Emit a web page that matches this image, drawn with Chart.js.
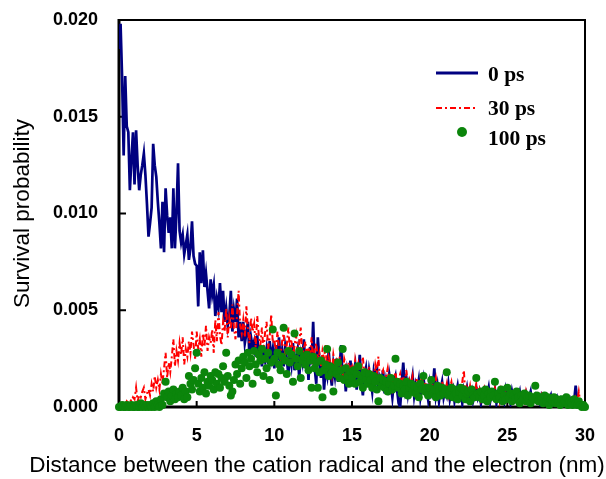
<!DOCTYPE html>
<html>
<head>
<meta charset="utf-8">
<script src="https://cdn.jsdelivr.net/npm/chart.js@4/dist/chart.umd.min.js"></script>
<style>
  html, body { margin: 0; padding: 0; background: #ffffff; }
</style>
</head>
<body>
<canvas id="survivalChart" width="606" height="479"></canvas>
<script>
// distance between cation radical and electron (nm), 0.1 nm bins
const distanceNm = [
  0, 0.1, 0.2, 0.3, 0.4, 0.5, 0.6, 0.7, 0.8, 0.9,
  1, 1.1, 1.2, 1.3, 1.4, 1.5, 1.6, 1.7, 1.8, 1.9,
  2, 2.1, 2.2, 2.3, 2.4, 2.5, 2.6, 2.7, 2.8, 2.9,
  3, 3.1, 3.2, 3.3, 3.4, 3.5, 3.6, 3.7, 3.8, 3.9,
  4, 4.1, 4.2, 4.3, 4.4, 4.5, 4.6, 4.7, 4.8, 4.9,
  5, 5.1, 5.2, 5.3, 5.4, 5.5, 5.6, 5.7, 5.8, 5.9,
  6, 6.1, 6.2, 6.3, 6.4, 6.5, 6.6, 6.7, 6.8, 6.9,
  7, 7.1, 7.2, 7.3, 7.4, 7.5, 7.6, 7.7, 7.8, 7.9,
  8, 8.1, 8.2, 8.3, 8.4, 8.5, 8.6, 8.7, 8.8, 8.9,
  9, 9.1, 9.2, 9.3, 9.4, 9.5, 9.6, 9.7, 9.8, 9.9,
  10, 10.1, 10.2, 10.3, 10.4, 10.5, 10.6, 10.7, 10.8, 10.9,
  11, 11.1, 11.2, 11.3, 11.4, 11.5, 11.6, 11.7, 11.8, 11.9,
  12, 12.1, 12.2, 12.3, 12.4, 12.5, 12.6, 12.7, 12.8, 12.9,
  13, 13.1, 13.2, 13.3, 13.4, 13.5, 13.6, 13.7, 13.8, 13.9,
  14, 14.1, 14.2, 14.3, 14.4, 14.5, 14.6, 14.7, 14.8, 14.9,
  15, 15.1, 15.2, 15.3, 15.4, 15.5, 15.6, 15.7, 15.8, 15.9,
  16, 16.1, 16.2, 16.3, 16.4, 16.5, 16.6, 16.7, 16.8, 16.9,
  17, 17.1, 17.2, 17.3, 17.4, 17.5, 17.6, 17.7, 17.8, 17.9,
  18, 18.1, 18.2, 18.3, 18.4, 18.5, 18.6, 18.7, 18.8, 18.9,
  19, 19.1, 19.2, 19.3, 19.4, 19.5, 19.6, 19.7, 19.8, 19.9,
  20, 20.1, 20.2, 20.3, 20.4, 20.5, 20.6, 20.7, 20.8, 20.9,
  21, 21.1, 21.2, 21.3, 21.4, 21.5, 21.6, 21.7, 21.8, 21.9,
  22, 22.1, 22.2, 22.3, 22.4, 22.5, 22.6, 22.7, 22.8, 22.9,
  23, 23.1, 23.2, 23.3, 23.4, 23.5, 23.6, 23.7, 23.8, 23.9,
  24, 24.1, 24.2, 24.3, 24.4, 24.5, 24.6, 24.7, 24.8, 24.9,
  25, 25.1, 25.2, 25.3, 25.4, 25.5, 25.6, 25.7, 25.8, 25.9,
  26, 26.1, 26.2, 26.3, 26.4, 26.5, 26.6, 26.7, 26.8, 26.9,
  27, 27.1, 27.2, 27.3, 27.4, 27.5, 27.6, 27.7, 27.8, 27.9,
  28, 28.1, 28.2, 28.3, 28.4, 28.5, 28.6, 28.7, 28.8, 28.9,
  29, 29.1, 29.2, 29.3, 29.4, 29.5, 29.6, 29.7, 29.8, 29.9,
  30
];

// survival probability, 0 ps
const survival0ps = [
  0.0185, 0.0198, 0.0170, 0.0130, 0.0171, 0.0145, 0.0142, 0.0112, 0.0128, 0.0142,
  0.0115, 0.0143, 0.0125, 0.0112, 0.0120, 0.0125, 0.0131, 0.0120, 0.0105, 0.0088,
  0.0095, 0.0103, 0.0136, 0.0125, 0.0119, 0.0106, 0.0095, 0.0082, 0.0106, 0.0080,
  0.0113, 0.0099, 0.0090, 0.0098, 0.0082, 0.0113, 0.0082, 0.0100, 0.0126, 0.0091,
  0.0085, 0.0089, 0.0079, 0.0084, 0.0089, 0.0076, 0.0082, 0.0096, 0.0078, 0.0074,
  0.0073, 0.0052, 0.0080, 0.0064, 0.0081, 0.0062, 0.0069, 0.0060, 0.0051, 0.0066,
  0.0058, 0.0063, 0.0047, 0.0056, 0.0051, 0.0064, 0.0049, 0.0060, 0.0044, 0.0051,
  0.0042, 0.0047, 0.0060, 0.0039, 0.0050, 0.0044, 0.0056, 0.0036, 0.0044, 0.0034,
  0.0044, 0.0033, 0.0038, 0.0044, 0.0026, 0.0036, 0.0031, 0.0034, 0.0026, 0.0037,
  0.0024, 0.0032, 0.0021, 0.0028, 0.0024, 0.0030, 0.0022, 0.0034, 0.0025, 0.0030,
  0.0020, 0.0032, 0.0024, 0.0036, 0.0022, 0.0029, 0.0021, 0.0031, 0.0025, 0.0017,
  0.0028, 0.0022, 0.0033, 0.0019, 0.0026, 0.0030, 0.0015, 0.0027, 0.0023, 0.0035,
  0.0020, 0.0029, 0.0014, 0.0031, 0.0022, 0.0044, 0.0020, 0.0012, 0.0036, 0.0024,
  0.0015, 0.0026, 0.0009, 0.0020, 0.0016, 0.0029, 0.0018, 0.0011, 0.0022, 0.0016,
  0.0025, 0.0013, 0.0020, 0.0032, 0.0014, 0.0021, 0.0008, 0.0019, 0.0015, 0.0024,
  0.0012, 0.0018, 0.0022, 0.0009, 0.0017, 0.0027, 0.0013, 0.0006, 0.0016, 0.0020,
  0.0011, 0.0019, 0.0014, 0.0008, 0.0018, 0.0013, 0.0021, 0.0009, 0.0015, 0.0012,
  0.0019, 0.0007, 0.0014, 0.0010, 0.0017, 0.0012, 0.0005, 0.0013, 0.0016, 0.0009,
  0.0002, 0, 0.0012, 0.0023, 0.0010, 0.0015, 0.0007, 0.0013, 0.0011, 0.0016,
  0.0006, 0.0012, 0.0009, 0.0014, 0.0005, 0.0011, 0.0015, 0.0008, 0.0010, 0.0004,
  0.0012, 0.0007, 0.0010, 0.0020, 0.0006, 0.0011, 0.0003, 0.0009, 0.0013, 0.0005,
  0.0009, 0.0006, 0.0012, 0.0004, 0.0008, 0.0010, 0.0003, 0.0007, 0.0011, 0.0005,
  0.0008, 0.0002, 0.0009, 0.0006, 0.0010, 0.0004, 0.0007, 0.0009, 0.0003, 0.0006,
  0.0010, 0.0005, 0.0008, 0.0002, 0.0007, 0.0009, 0.0004, 0.0006, 0.0010, 0.0003,
  0.0007, 0.0005, 0.0009, 0.0002, 0.0006, 0.0008, 0.0004, 0.0007, 0.0003, 0.0009,
  0.0005, 0.0006, 0.0002, 0.0008, 0.0004, 0.0007, 0.0003, 0.0005, 0.0008, 0.0002,
  0.0006, 0.0004, 0.0007, 0.0003, 0.0005, 0.0008, 0.0002, 0.0004, 0.0006, 0.0003,
  0.0005, 0.0002, 0.0006, 0.0004, 0.0003, 0.0005, 0.0002, 0.0004, 0.0006, 0.0001,
  0.0004, 0.0003, 0.0005, 0.0002, 0.0004, 0.0001, 0.0003, 0.0005, 0.0002, 0.0003,
  0.0001, 0.0004, 0.0002, 0.0003, 0.0011, 0.0002, 0.0001, 0.0003, 0.0002, 0.0001,
  0
];

// survival probability, 30 ps
const survival30ps = [
  0, 0.0001, 0, 0.0002, 0.0001, 0.0003, 0.0002, 0.0004, 0.0003, 0.0005,
  0.0004, 0.0010, 0.0003, 0.0006, 0.0005, 0.0008, 0.0010, 0.0004, 0.0007, 0.0009,
  0.0006, 0.0012, 0.0008, 0.0016, 0.0010, 0.0014, 0.0009, 0.0017, 0.0012, 0.0020,
  0.0028, 0.0015, 0.0023, 0.0018, 0.0026, 0.0035, 0.0021, 0.0029, 0.0024, 0.0033,
  0.0027, 0.0036, 0.0022, 0.0030, 0.0026, 0.0034, 0.0028, 0.0039, 0.0032, 0.0025,
  0.0039, 0.0030, 0.0035, 0.0026, 0.0038, 0.0031, 0.0042, 0.0029, 0.0036, 0.0033,
  0.0040, 0.0028, 0.0045, 0.0034, 0.0049, 0.0037, 0.0032, 0.0044, 0.0039, 0.0051,
  0.0036, 0.0046, 0.0040, 0.0053, 0.0041, 0.0035, 0.0048, 0.0060, 0.0042, 0.0038,
  0.0045, 0.0036, 0.0052, 0.0040, 0.0033, 0.0046, 0.0039, 0.0043, 0.0031, 0.0047,
  0.0037, 0.0032, 0.0041, 0.0029, 0.0038, 0.0044, 0.0030, 0.0036, 0.0048, 0.0033,
  0.0035, 0.0028, 0.0039, 0.0031, 0.0026, 0.0034, 0.0038, 0.0027, 0.0032, 0.0041,
  0.0029, 0.0035, 0.0024, 0.0032, 0.0037, 0.0028, 0.0033, 0.0041, 0.0026, 0.0030,
  0.0034, 0.0025, 0.0031, 0.0027, 0.0036, 0.0022, 0.0030, 0.0033, 0.0024, 0.0028,
  0.0021, 0.0029, 0.0025, 0.0032, 0.0019, 0.0026, 0.0023, 0.0017, 0.0027, 0.0022,
  0.0024, 0.0018, 0.0026, 0.0020, 0.0016, 0.0025, 0.0022, 0.0015, 0.0023, 0.0019,
  0.0021, 0.0015, 0.0024, 0.0018, 0.0022, 0.0014, 0.0020, 0.0026, 0.0016, 0.0019,
  0.0017, 0.0021, 0.0013, 0.0019, 0.0015, 0.0022, 0.0018, 0.0026, 0.0014, 0.0017,
  0.0019, 0.0012, 0.0016, 0.0020, 0.0013, 0.0017, 0.0010, 0.0015, 0.0018, 0.0011,
  0.0014, 0.0017, 0.0010, 0.0016, 0.0012, 0.0019, 0.0009, 0.0014, 0.0011, 0.0016,
  0.0010, 0.0013, 0.0015, 0.0008, 0.0012, 0.0016, 0.0009, 0.0013, 0.0011, 0.0007,
  0.0012, 0.0014, 0.0008, 0.0011, 0.0015, 0.0009, 0.0012, 0.0007, 0.0013, 0.0010,
  0.0008, 0.0012, 0.0006, 0.0010, 0.0013, 0.0007, 0.0011, 0.0009, 0.0005, 0.0010,
  0.0008, 0.0013, 0.0019, 0.0006, 0.0010, 0.0007, 0.0011, 0.0005, 0.0009, 0.0008,
  0.0012, 0.0006, 0.0009, 0.0004, 0.0008, 0.0010, 0.0005, 0.0009, 0.0007, 0.0004,
  0.0008, 0.0006, 0.0010, 0.0005, 0.0007, 0.0003, 0.0009, 0.0006, 0.0004, 0.0007,
  0.0005, 0.0008, 0.0003, 0.0006, 0.0009, 0.0004, 0.0006, 0.0003, 0.0007, 0.0005,
  0.0006, 0.0003, 0.0008, 0.0004, 0.0005, 0.0002, 0.0006, 0.0004, 0.0007, 0.0003,
  0.0005, 0.0003, 0.0006, 0.0002, 0.0004, 0.0005, 0.0003, 0.0006, 0.0002, 0.0004,
  0.0003, 0.0005, 0.0002, 0.0004, 0.0003, 0.0006, 0.0002, 0.0004, 0.0003, 0.0005,
  0.0002, 0.0004, 0.0003, 0.0002, 0.0005, 0.0003, 0.0008, 0.0002, 0.0003, 0.0001,
  0
];

// survival probability, 100 ps
const survival100ps = [
  0, 0, 0.0001, 0, 0, 0.0001, 0, 0, 0.0001, 0,
  0, 0.0001, 0, 0, 0.0002, 0, 0.0001, 0, 0.0001, 0,
  0.0001, 0, 0.0002, 0, 0.0003, 0.0001, 0, 0.0004, 0.0001, 0.0007,
  0.0013, 0.0005, 0.0008, 0.0003, 0.0006, 0.0009, 0.0004, 0.0007, 0.0005, 0.0008,
  0.0006, 0.0010, 0.0004, 0.0008, 0.0005, 0.0016, 0.0012, 0.0009, 0.0014, 0.0020,
  0.0028, 0.0012, 0.0008, 0.0015, 0.0010, 0.0018, 0.0007, 0.0013, 0.0011, 0.0016,
  0.0014, 0.0009, 0.0018, 0.0012, 0.0017, 0.0010, 0.0015, 0.0021, 0.0013, 0.0028,
  0.0016, 0.0011, 0.0006, 0.0008, 0.0014, 0.0022, 0.0017, 0.0024, 0.0012, 0.0020,
  0.0026, 0.0023, 0.0015, 0.0028, 0.0021, 0.0025, 0.0012, 0.0029, 0.0022, 0.0018,
  0.0027, 0.0024, 0.0030, 0.0016, 0.0025, 0.0020, 0.0028, 0.0014, 0.0023, 0.0040,
  0.0025, 0.0006, 0.0028, 0.0022, 0.0019, 0.0026, 0.0041, 0.0024, 0.0017, 0.0029,
  0.0023, 0.0027, 0.0013, 0.0038, 0.0025, 0.0021, 0.0029, 0.0015, 0.0024, 0.0026,
  0.0022, 0.0027, 0.0019, 0.0024, 0.0010, 0.0026, 0.0020, 0.0023, 0.0010, 0.0018,
  0.0024, 0.0005, 0.0019, 0.0022, 0.0030, 0.0016, 0.0021, 0.0018, 0.0008, 0.0020,
  0.0017, 0.0023, 0.0015, 0.0019, 0.0030, 0.0014, 0.0020, 0.0016, 0.0012, 0.0018,
  0.0015, 0.0019, 0.0012, 0.0017, 0.0021, 0.0013, 0.0016, 0.0010, 0.0018, 0.0014,
  0.0012, 0.0017, 0.0014, 0.0010, 0.0016, 0.0013, 0.0009, 0.0003, 0.0015, 0.0011,
  0.0014, 0.0010, 0.0013, 0.0008, 0.0012, 0.0015, 0.0009, 0.0011, 0.0025, 0.0013,
  0.0010, 0.0012, 0.0007, 0.0011, 0.0009, 0.0013, 0.0006, 0.0010, 0.0012, 0.0008,
  0.0011, 0.0007, 0.0010, 0.0005, 0.0012, 0.0009, 0.0016, 0.0008, 0.0010, 0.0006,
  0.0010, 0.0014, 0.0007, 0.0009, 0.0005, 0.0011, 0.0008, 0.0006, 0.0010, 0.0007,
  0.0009, 0.0018, 0.0006, 0.0008, 0.0010, 0.0005, 0.0009, 0.0007, 0.0004, 0.0008,
  0.0010, 0.0006, 0.0009, 0.0004, 0.0007, 0.0008, 0.0003, 0.0009, 0.0006, 0.0005,
  0.0015, 0.0007, 0.0005, 0.0008, 0.0004, 0.0006, 0.0009, 0.0003, 0.0007, 0.0005,
  0.0008, 0.0006, 0.0013, 0.0004, 0.0007, 0.0005, 0.0009, 0.0003, 0.0006, 0.0004,
  0.0010, 0.0005, 0.0007, 0.0003, 0.0006, 0.0004, 0.0008, 0.0005, 0.0002, 0.0006,
  0.0004, 0.0007, 0.0003, 0.0005, 0.0006, 0.0002, 0.0005, 0.0004, 0.0011, 0.0006,
  0.0003, 0.0005, 0.0004, 0.0002, 0.0006, 0.0003, 0.0005, 0.0001, 0.0004, 0.0003,
  0.0005, 0.0002, 0.0004, 0.0003, 0.0001, 0.0004, 0.0002, 0.0003, 0.0005, 0.0001,
  0.0003, 0.0002, 0.0001, 0.0004, 0.0002, 0.0001, 0.0003, 0.0001, 0, 0.0001,
  0
];

const seriesLabels = ["0 ps", "30 ps", "100 ps"];
const xTitle = "Distance between the cation radical and the electron (nm)";
const yTitle = "Survival probability";

const toPoints = (values) => distanceNm.map((d, i) => ({ x: d, y: values[i] }));

const sansFont = "'Liberation Sans', Arial, sans-serif";
const serifFont = "'Liberation Serif', 'Times New Roman', serif";

// frame, inward ticks, x title and the legend box inside the plot
const framePlugin = {
    id: "frame",
    beforeDatasetsDraw(chart) {
        const { ctx, chartArea: a, scales } = chart;
        ctx.save();
        ctx.strokeStyle = "#000";
        ctx.lineWidth = 2;
        ctx.beginPath();
        ctx.moveTo(a.left, a.top);
        ctx.lineTo(a.right, a.top);
        ctx.lineTo(a.right, a.bottom);
        ctx.stroke();
        ctx.lineWidth = 3;
        ctx.beginPath();
        ctx.moveTo(a.left, a.top - 1);
        ctx.lineTo(a.left, a.bottom);
        ctx.lineTo(a.right + 1, a.bottom);
        ctx.stroke();

        ctx.lineWidth = 2;
        ctx.beginPath();
        scales.y.ticks.forEach((t) => {
            const py = scales.y.getPixelForValue(t.value);
            ctx.moveTo(a.left, py);
            ctx.lineTo(a.left + 7, py);
        });
        scales.x.ticks.forEach((t) => {
            const px = scales.x.getPixelForValue(t.value);
            ctx.moveTo(px, a.bottom);
            ctx.lineTo(px, a.bottom - 6);
        });
        ctx.stroke();
        ctx.restore();
    },
    afterDraw(chart) {
        const { ctx } = chart;
        ctx.save();
        ctx.fillStyle = "#000";
        ctx.font = "22.5px " + sansFont;
        ctx.textAlign = "center";
        ctx.textBaseline = "middle";
        ctx.fillText(xTitle, 317, 466);

        // legend
        const ds = chart.data.datasets;
        const rows = [
            { ly: 73, ty: 75 },
            { ly: 108, ty: 109 },
            { ly: 132, ty: 139 },
        ];
        ctx.font = "bold 21.5px " + serifFont;
        ctx.textAlign = "left";
        ds.forEach((d, i) => {
            const r = rows[i];
            if (d.showLine === false) {
                ctx.fillStyle = d.pointBackgroundColor;
                ctx.beginPath();
                ctx.arc(462, r.ly, 5, 0, Math.PI * 2);
                ctx.fill();
            } else {
                ctx.strokeStyle = d.borderColor;
                ctx.lineWidth = i === 0 ? 3 : 2;
                ctx.setLineDash(d.borderDash || []);
                ctx.beginPath();
                ctx.moveTo(436, r.ly);
                ctx.lineTo(478, r.ly);
                ctx.stroke();
                ctx.setLineDash([]);
            }
            ctx.fillStyle = "#000";
            ctx.fillText(d.label, 488, r.ty);
        });
        ctx.restore();
    },
};

new Chart(document.getElementById("survivalChart"), {
    type: "line",
    data: {
        datasets: [
            {
                label: seriesLabels[0],
                data: toPoints(survival0ps),
                borderColor: "#000080",
                borderWidth: 2.7,
                pointRadius: 0,
                order: 2,
            },
            {
                label: seriesLabels[1],
                data: toPoints(survival30ps),
                borderColor: "#ff0000",
                borderWidth: 2,
                borderDash: [6, 3, 2, 3],
                pointRadius: 0,
                order: 1,
            },
            {
                label: seriesLabels[2],
                data: toPoints(survival100ps),
                showLine: false,
                pointRadius: 4,
                pointBackgroundColor: "#0b850b",
                pointBorderWidth: 0,
                clip: false,
                order: 0,
            },
        ],
    },
    options: {
        responsive: false,
        animation: false,
        layout: { padding: { left: 8, right: 21, top: 20, bottom: 0 } },
        plugins: {
            legend: { display: false },
            tooltip: { enabled: false },
        },
        scales: {
            x: {
                type: "linear",
                min: 0,
                max: 30,
                grid: { display: false, drawTicks: false },
                border: { display: false },
                ticks: {
                    stepSize: 5,
                    padding: 18,
                    color: "#000",
                    font: { family: sansFont, size: 18, weight: "bold" },
                },
                // fixed axis band; drop the label overflow padding so the plot keeps its box
                afterFit: (scale) => {
                    scale.height = 72;
                    scale.paddingLeft = 0;
                    scale.paddingRight = 0;
                },
            },
            y: {
                min: 0,
                max: 0.02,
                grid: { display: false, drawTicks: false },
                border: { display: false },
                ticks: {
                    stepSize: 0.005,
                    padding: 21,
                    color: "#000",
                    font: { family: sansFont, size: 18, weight: "bold" },
                    callback: (v) => v.toFixed(3),
                },
                title: {
                    display: true,
                    text: yTitle,
                    color: "#000",
                    font: { family: sansFont, size: 22.5 },
                    padding: { top: 1, bottom: 0 },
                },
                afterFit: (scale) => {
                    scale.width = 111;
                    scale.paddingTop = 0;
                    scale.paddingBottom = 0;
                },
            },
        },
    },
    plugins: [framePlugin],
});
</script>
</body>
</html>
